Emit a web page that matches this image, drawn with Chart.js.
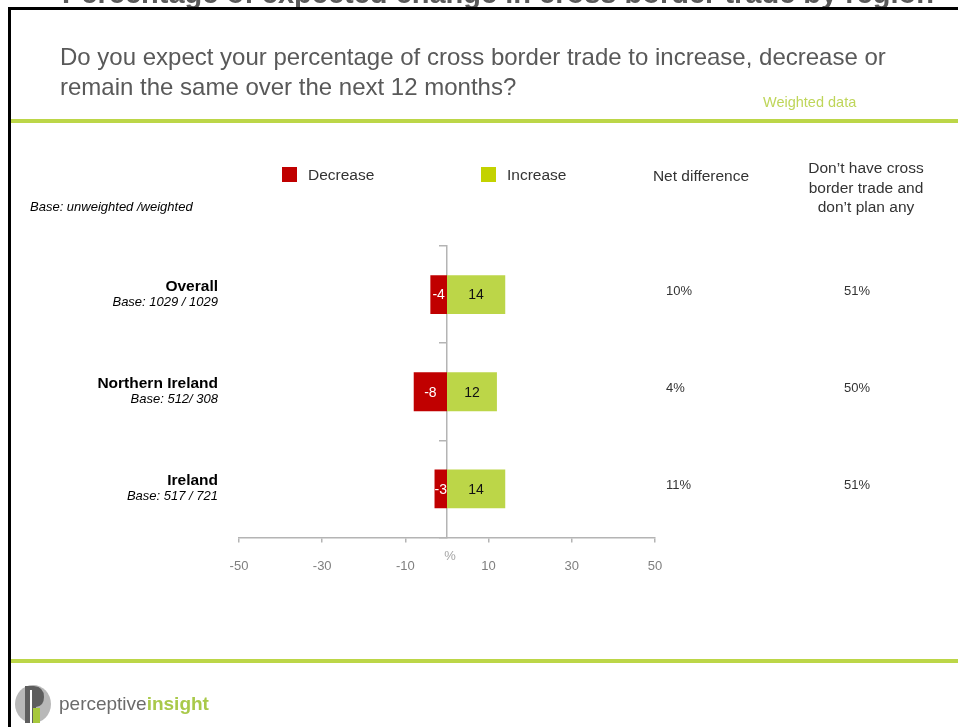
<!DOCTYPE html>
<html lang="en">
<head>
<meta charset="UTF-8">
<title>Cross border trade expectations</title>
<script src="https://cdn.jsdelivr.net/npm/chart.js"></script>
<style>
  html, body { margin: 0; padding: 0; background: #fff; }
  #wrap { position: relative; width: 958px; height: 727px; }
</style>
</head>
<body>
<div id="wrap"><canvas id="tradeChart" width="958" height="727"></canvas></div>

<script>
// survey results
const regions = ['Overall', 'Northern Ireland', 'Ireland'];
const bases = ['Base: 1029 / 1029', 'Base: 512/ 308', 'Base: 517 / 721'];
const decrease = [-4, -8, -3];
const increase = [14, 12, 14];
const netDifference = [10, 4, 11];
const noCrossBorder = [51, 50, 51];
const xTicks = [-50, -30, -10, 10, 30, 50];

const FONT = '"Liberation Sans", Arial, sans-serif';
const RED = '#C00000';
const GREEN = '#BCD648';
const LINE_GREEN = '#BCD648';
const AXIS_GREY = '#B4B4B4';

Chart.defaults.font.family = FONT;

function text(ctx, str, x, y, font, color, align) {
    ctx.font = font;
    ctx.fillStyle = color;
    ctx.textAlign = align || 'left';
    ctx.textBaseline = 'middle';
    ctx.fillText(str, x, y);
}

// slide frame, headings, legend and logo
const slidePlugin = {
    id: 'slide',
    beforeDraw(chart) {
        const ctx = chart.ctx;
        ctx.save();
        ctx.fillStyle = '#fff';
        ctx.fillRect(0, 0, chart.width, chart.height);

        // title, mostly above the page edge
        ctx.font = 'bold 29px ' + FONT;
        ctx.fillStyle = '#595959';
        ctx.textAlign = 'left';
        ctx.textBaseline = 'alphabetic';
        ctx.fillText('Percentage of expected change in cross border trade by region', 62, 3);

        // black frame
        ctx.fillStyle = '#000';
        ctx.fillRect(8, 7, chart.width - 8, 3);
        ctx.fillRect(8, 7, 3, chart.height - 7);

        // green rules
        ctx.fillStyle = LINE_GREEN;
        ctx.fillRect(11, 119, chart.width - 11, 4);
        ctx.fillRect(11, 659, chart.width - 11, 4);

        text(ctx, 'Do you expect your percentage of cross border trade to increase, decrease or', 60, 58, '24px ' + FONT, '#595959');
        text(ctx, 'remain the same over the next 12 months?', 60, 88, '24px ' + FONT, '#595959');
        text(ctx, 'Weighted data', 763, 103, '14.5px ' + FONT, '#BFD65A');
        text(ctx, 'Base: unweighted /weighted', 30, 207, 'italic 13px ' + FONT, '#000');

        // legend
        ctx.fillStyle = RED;
        ctx.fillRect(282, 167, 15, 15);
        text(ctx, 'Decrease', 308, 175.5, '15.5px ' + FONT, '#333');
        ctx.fillStyle = '#C3D200';
        ctx.fillRect(481, 167, 15, 15);
        text(ctx, 'Increase', 507, 175.5, '15.5px ' + FONT, '#333');

        // right hand column headings
        text(ctx, 'Net difference', 701, 177, '15.5px ' + FONT, '#333', 'center');
        text(ctx, 'Don\u2019t have cross', 866, 169, '15.5px ' + FONT, '#333', 'center');
        text(ctx, 'border trade and', 866, 188.5, '15.5px ' + FONT, '#333', 'center');
        text(ctx, 'don\u2019t plan any', 866, 208, '15.5px ' + FONT, '#333', 'center');

        // logo
        ctx.fillStyle = '#B8B8B8';
        ctx.beginPath();
        ctx.ellipse(33, 704, 18, 19, 0, 0, Math.PI * 2);
        ctx.fill();
        ctx.fillStyle = '#5E5E5E';
        ctx.beginPath();
        ctx.moveTo(25, 723);
        ctx.lineTo(25, 686);
        ctx.lineTo(34, 686);
        ctx.quadraticCurveTo(44, 687, 44, 697);
        ctx.quadraticCurveTo(44, 706, 36, 707);
        ctx.lineTo(36, 723);
        ctx.closePath();
        ctx.fill();
        ctx.fillStyle = '#A7C83C';
        ctx.fillRect(33, 708, 7, 15);
        ctx.fillStyle = '#fff';
        ctx.fillRect(30, 690, 2, 33);
        text(ctx, 'perceptive', 59, 705, '19px ' + FONT, '#6B6B6B');
        ctx.font = '19px ' + FONT;
        const w = ctx.measureText('perceptive').width;
        text(ctx, 'insight', 59 + w, 705, 'bold 19px ' + FONT, '#A9C94A');
        ctx.restore();
    },
    afterDatasetsDraw(chart) {
        const ctx = chart.ctx;
        const y = chart.scales.y;
        const x = chart.scales.x;
        ctx.save();

        // values inside the bars
        chart.data.datasets.forEach((ds, di) => {
            chart.getDatasetMeta(di).data.forEach((bar, i) => {
                const cx = (bar.x + bar.base) / 2;
                text(ctx, String(ds.data[i]), cx, bar.y + 1, '14px ' + FONT,
                    di === 0 ? '#fff' : '#111', 'center');
            });
        });

        // row labels and the two side columns
        regions.forEach((name, i) => {
            const cy = y.getPixelForValue(i);
            text(ctx, name, 218, cy - 8, 'bold 15.5px ' + FONT, '#000', 'right');
            text(ctx, bases[i], 218, cy + 8, 'italic 13px ' + FONT, '#000', 'right');
            text(ctx, netDifference[i] + '%', 666, cy - 3, '13px ' + FONT, '#333');
            text(ctx, noCrossBorder[i] + '%', 857, cy - 3, '13px ' + FONT, '#333', 'center');
        });

        text(ctx, '%', x.getPixelForValue(0) + 3, x.top + 19, '13px ' + FONT, '#A6A6A6', 'center');
        ctx.restore();
    }
};

new Chart(document.getElementById('tradeChart'), {
    type: 'bar',
    data: {
        labels: regions,
        datasets: [
            { label: 'Decrease', data: decrease, backgroundColor: RED },
            { label: 'Increase', data: increase, backgroundColor: GREEN }
        ]
    },
    options: {
        indexAxis: 'y',
        responsive: false,
        animation: false,
        layout: { padding: { left: 239, right: 303, top: 246, bottom: 137 } },
        datasets: { bar: { barPercentage: 0.4, categoryPercentage: 1 } },
        scales: {
            x: {
                stacked: true,
                min: -50,
                max: 50,
                afterBuildTicks: s => { s.ticks = xTicks.map(v => ({ value: v })); },
                ticks: { color: '#7F7F7F', font: { size: 13 }, padding: 16 },
                grid: { drawOnChartArea: false, tickLength: 5, color: AXIS_GREY, lineWidth: 1.5 },
                border: { color: AXIS_GREY, width: 1.5 }
            },
            y: {
                stacked: true,
                position: { x: 0 },
                offset: true,
                ticks: { display: false },
                grid: { offset: true, drawOnChartArea: false, tickLength: 7, color: AXIS_GREY, lineWidth: 1.5 },
                border: { color: AXIS_GREY, width: 1.5 }
            }
        },
        plugins: {
            legend: { display: false },
            tooltip: { enabled: false }
        }
    },
    plugins: [slidePlugin]
});
</script>
</body>
</html>
